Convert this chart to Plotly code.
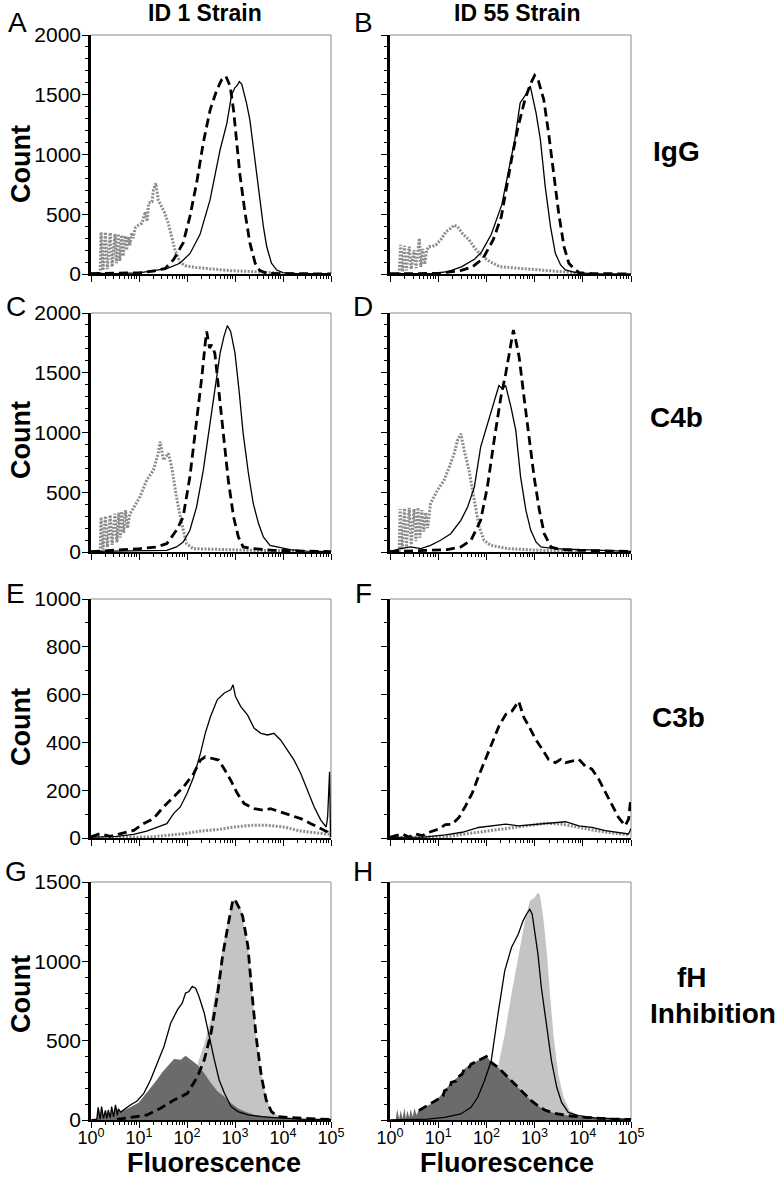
import numpy as np
import plotly.graph_objects as go

# ---------------- data (x as log10 fluorescence, y as count) ----------------
# Panel A : IgG, ID 1 strain
a_solid_lx = [0.0, 0.5, 1.0, 1.3, 1.58, 1.85, 2.06, 2.27, 2.48, 2.69, 2.83, 2.93, 3.0, 3.05, 3.09, 3.14, 3.24, 3.31, 3.38, 3.49, 3.59, 3.66, 3.76, 3.87, 4.0, 4.3, 5.0]
a_solid_y = [5, 3, 10, 25, 45, 90, 170, 330, 620, 1040, 1260, 1500, 1560, 1580, 1610, 1590, 1430, 1290, 1065, 730, 400, 230, 90, 33, 11, 3, 2]
a_dash_lx = [0.0, 0.5, 1.0, 1.3, 1.54, 1.72, 1.92, 2.06, 2.2, 2.34, 2.48, 2.62, 2.72, 2.81, 2.9, 2.97, 3.03, 3.10, 3.21, 3.31, 3.42, 3.52, 3.66, 4.0, 5.0]
a_dash_y = [3, 5, 10, 25, 45, 120, 260, 480, 760, 1100, 1370, 1540, 1625, 1655, 1570, 1370, 1120, 840, 510, 260, 90, 28, 6, 3, 1]
a_dot_lx = [0.19, 0.21, 0.25, 0.30, 0.34, 0.40, 0.44, 0.50, 0.53, 0.57, 0.60, 0.64, 0.67, 0.71, 0.74, 0.78, 0.81, 0.85, 0.88, 0.92, 0.99, 1.06, 1.13, 1.17, 1.20, 1.27, 1.30, 1.35, 1.40, 1.47, 1.54, 1.61, 1.68, 1.75, 1.85, 1.96, 2.17, 2.5, 2.9, 3.4, 3.8, 4.0]
a_dot_y = [0, 350, 30, 350, 40, 345, 60, 335, 90, 335, 110, 325, 150, 320, 200, 310, 240, 345, 300, 385, 410, 425, 520, 440, 594, 603, 703, 760, 620, 560, 508, 425, 312, 200, 100, 70, 55, 40, 28, 20, 11, 5]

# Panel B : IgG, ID 55 strain
b_solid_lx = [0.0, 0.85, 1.2, 1.48, 1.76, 1.90, 2.1, 2.32, 2.45, 2.59, 2.70, 2.77, 2.84, 2.91, 2.96, 3.03, 3.12, 3.22, 3.33, 3.43, 3.54, 3.64, 3.85, 4.2, 5.0]
b_solid_y = [3, 3, 20, 60, 125, 185, 330, 580, 845, 1124, 1432, 1474, 1516, 1572, 1488, 1348, 1124, 733, 397, 173, 76, 34, 11, 3, 1]
b_dash_lx = [0.0, 1.0, 1.48, 1.71, 1.93, 2.14, 2.31, 2.52, 2.66, 2.80, 2.91, 3.0, 3.08, 3.19, 3.29, 3.40, 3.50, 3.61, 3.71, 3.81, 3.92, 4.2, 5.0]
b_dash_y = [2, 5, 30, 60, 130, 285, 480, 957, 1236, 1460, 1586, 1661, 1614, 1460, 1180, 845, 509, 229, 90, 48, 11, 3, 1]
b_dot_lx = [0.19, 0.22, 0.26, 0.30, 0.34, 0.40, 0.44, 0.50, 0.54, 0.58, 0.61, 0.64, 0.68, 0.72, 0.76, 0.81, 0.88, 0.95, 1.05, 1.16, 1.26, 1.33, 1.40, 1.50, 1.64, 1.79, 1.93, 2.07, 2.28, 2.6, 3.0, 3.3, 3.64, 4.0]
b_dot_y = [0, 243, 20, 235, 30, 229, 40, 200, 50, 190, 299, 60, 210, 80, 200, 229, 230, 243, 285, 354, 382, 410, 396, 340, 285, 200, 145, 103, 61, 50, 39, 28, 17, 5]

# Panel C : C4b, ID 1 strain
c_solid_lx = [0.0, 1.02, 1.58, 1.78, 1.92, 2.06, 2.2, 2.34, 2.48, 2.58, 2.69, 2.77, 2.84, 2.91, 3.0, 3.09, 3.17, 3.28, 3.38, 3.49, 3.59, 3.73, 3.94, 4.15, 4.49, 5.0]
c_solid_y = [5, 14, 14, 42, 84, 182, 378, 685, 1077, 1385, 1664, 1804, 1894, 1846, 1664, 1329, 993, 657, 406, 238, 126, 56, 36, 20, 8, 3]
c_dash_lx = [0.0, 0.19, 0.5, 1.02, 1.37, 1.58, 1.78, 1.92, 2.06, 2.2, 2.31, 2.38, 2.41, 2.47, 2.51, 2.58, 2.65, 2.74, 2.86, 2.97, 3.07, 3.17, 3.38, 3.80, 4.5, 5.0]
c_dash_y = [3, 8, 10, 28, 42, 70, 182, 294, 629, 1077, 1468, 1748, 1846, 1706, 1734, 1664, 1385, 1021, 601, 294, 126, 42, 28, 14, 5, 3]
c_dot_lx = [0.19, 0.21, 0.25, 0.30, 0.34, 0.40, 0.44, 0.50, 0.54, 0.58, 0.61, 0.64, 0.68, 0.72, 0.76, 0.81, 0.88, 1.02, 1.16, 1.30, 1.40, 1.44, 1.51, 1.61, 1.68, 1.78, 1.89, 1.99, 2.13, 2.62, 3.31, 4.3]
c_dot_y = [0, 290, 20, 300, 40, 310, 60, 320, 80, 330, 120, 340, 160, 350, 200, 320, 364, 462, 601, 685, 825, 923, 769, 825, 713, 462, 238, 70, 28, 20, 14, 8]

# Panel D : C4b, ID 55 strain
d_solid_lx = [0.0, 0.22, 0.43, 0.64, 0.84, 1.05, 1.26, 1.47, 1.61, 1.75, 1.88, 2.02, 2.16, 2.26, 2.33, 2.40, 2.51, 2.61, 2.71, 2.82, 2.92, 3.03, 3.13, 3.41, 3.96, 4.65, 5.0]
d_solid_y = [5, 28, 42, 28, 56, 98, 153, 265, 376, 543, 878, 1073, 1268, 1393, 1365, 1393, 1212, 1017, 627, 348, 181, 84, 42, 28, 20, 8, 5]
d_dash_lx = [0.0, 0.84, 1.19, 1.47, 1.68, 1.88, 2.02, 2.16, 2.30, 2.40, 2.51, 2.56, 2.61, 2.68, 2.78, 2.89, 2.99, 3.10, 3.20, 3.34, 3.55, 3.96, 4.7, 5.0]
d_dash_y = [3, 14, 20, 42, 98, 265, 543, 933, 1296, 1491, 1770, 1858, 1770, 1630, 1296, 961, 627, 348, 153, 42, 20, 14, 8, 5]
d_dot_lx = [0.19, 0.21, 0.25, 0.30, 0.34, 0.40, 0.44, 0.50, 0.54, 0.58, 0.62, 0.66, 0.70, 0.74, 0.78, 0.84, 0.98, 1.12, 1.23, 1.33, 1.40, 1.47, 1.54, 1.64, 1.75, 1.85, 1.95, 2.09, 2.44, 3.13, 4.0]
d_dot_y = [0, 360, 20, 365, 40, 370, 60, 360, 90, 370, 120, 350, 170, 330, 200, 404, 515, 599, 710, 822, 933, 989, 850, 683, 432, 209, 98, 56, 28, 14, 8]

# Panel E : C3b, ID 1 strain
e_solid_lx = [0.0, 0.05, 0.54, 0.89, 1.16, 1.37, 1.58, 1.72, 1.86, 2.0, 2.14, 2.28, 2.38, 2.49, 2.63, 2.77, 2.91, 2.96, 3.01, 3.12, 3.26, 3.40, 3.54, 3.68, 3.81, 3.95, 4.09, 4.23, 4.37, 4.51, 4.65, 4.79, 4.90, 4.93, 4.97, 4.99]
e_solid_y = [3, 4, 7, 15, 29, 46, 60, 102, 130, 186, 256, 354, 438, 508, 578, 606, 620, 641, 592, 550, 515, 459, 438, 431, 438, 410, 368, 326, 270, 200, 130, 74, 46, 88, 277, 4]
e_dash_lx = [0.0, 0.19, 0.40, 0.54, 0.89, 1.09, 1.30, 1.51, 1.72, 1.93, 2.14, 2.28, 2.38, 2.52, 2.66, 2.77, 2.91, 3.05, 3.19, 3.40, 3.61, 3.74, 3.95, 4.16, 4.37, 4.58, 4.79, 4.93, 4.99]
e_dash_y = [5, 18, 7, 15, 32, 60, 81, 130, 172, 214, 270, 326, 340, 333, 326, 291, 242, 186, 144, 123, 116, 123, 109, 95, 81, 60, 39, 25, 5]
e_dot_lx = [0.0, 0.89, 1.23, 1.58, 1.93, 2.28, 2.63, 2.98, 3.33, 3.68, 4.02, 4.37, 4.72, 4.99]
e_dot_y = [2, 5, 4, 11, 18, 29, 35, 46, 53, 53, 46, 29, 21, 15]

# Panel F : C3b, ID 55 strain
f_solid_lx = [0.0, 0.7, 1.15, 1.50, 1.84, 2.12, 2.40, 2.67, 2.95, 3.23, 3.50, 3.64, 3.92, 4.19, 4.47, 4.74, 4.95, 5.0]
f_solid_y = [3, 4, 13, 24, 44, 51, 58, 51, 56, 58, 65, 68, 51, 44, 31, 24, 17, 40]
f_dash_lx = [0.0, 0.26, 0.39, 0.53, 0.67, 0.81, 1.02, 1.15, 1.29, 1.43, 1.57, 1.71, 1.84, 1.98, 2.12, 2.26, 2.40, 2.53, 2.67, 2.78, 2.88, 3.02, 3.16, 3.29, 3.43, 3.54, 3.64, 3.78, 3.92, 4.05, 4.19, 4.33, 4.47, 4.61, 4.74, 4.88, 4.95, 4.99]
f_dash_y = [3, 17, 4, 17, 10, 24, 38, 56, 58, 86, 135, 190, 260, 329, 399, 468, 517, 531, 572, 503, 468, 413, 371, 329, 315, 329, 315, 322, 329, 301, 288, 246, 190, 135, 86, 51, 79, 156]
f_dot_lx = [0.0, 1.15, 1.50, 1.84, 2.19, 2.53, 2.88, 3.23, 3.57, 3.92, 4.26, 4.61, 4.95]
f_dot_y = [2, 5, 15, 24, 35, 44, 51, 62, 58, 44, 31, 21, 13]

# Panel G : fH inhibition, ID 1 strain
g_light_lx = [0.0, 0.89, 1.45, 1.87, 2.08, 2.25, 2.36, 2.50, 2.64, 2.74, 2.85, 2.95, 3.02, 3.13, 3.27, 3.34, 3.44, 3.55, 3.65, 3.76, 3.90, 4.17, 4.73, 5.0]
g_light_y = [0, 5, 30, 100, 180, 380, 480, 640, 880, 1080, 1250, 1380, 1390, 1320, 1100, 850, 530, 290, 140, 60, 25, 12, 5, 3]
g_dark_lx = [0.0, 0.12, 0.15, 0.19, 0.22, 0.26, 0.30, 0.33, 0.36, 0.40, 0.43, 0.47, 0.51, 0.55, 0.57, 0.62, 0.71, 0.85, 0.99, 1.13, 1.27, 1.37, 1.48, 1.59, 1.73, 1.87, 1.97, 2.08, 2.22, 2.36, 2.50, 2.64, 2.78, 2.92, 3.06, 3.20, 3.41, 3.69, 4.03, 4.38, 5.0]
g_dark_y = [0, 5, 80, 5, 84, 10, 60, 10, 63, 15, 84, 20, 95, 30, 70, 50, 63, 84, 109, 160, 210, 252, 300, 340, 385, 380, 405, 380, 347, 295, 231, 179, 147, 105, 74, 53, 32, 21, 11, 6, 3]
g_solid_lx = [0.0, 0.12, 0.15, 0.19, 0.22, 0.26, 0.30, 0.33, 0.36, 0.40, 0.43, 0.47, 0.51, 0.55, 0.57, 0.62, 0.71, 0.82, 0.96, 1.10, 1.24, 1.38, 1.52, 1.66, 1.80, 1.90, 1.97, 2.04, 2.11, 2.18, 2.25, 2.36, 2.46, 2.57, 2.67, 2.78, 2.92, 3.06, 3.27, 3.55, 3.90, 4.38, 5.0]
g_solid_y = [0, 5, 80, 5, 84, 10, 60, 10, 63, 15, 84, 20, 95, 30, 70, 50, 70, 95, 120, 168, 252, 358, 463, 610, 694, 736, 800, 810, 842, 831, 778, 673, 526, 379, 252, 168, 84, 53, 32, 21, 13, 6, 3]
g_dash_lx = [0.54, 0.89, 1.17, 1.45, 1.73, 2.01, 2.22, 2.36, 2.50, 2.64, 2.74, 2.85, 2.95, 2.99, 3.09, 3.16, 3.27, 3.34, 3.44, 3.55, 3.65, 3.76, 3.90, 4.10, 4.38, 4.73, 5.0]
g_dash_y = [4, 17, 32, 74, 126, 168, 274, 379, 547, 800, 1031, 1220, 1378, 1393, 1336, 1283, 1094, 842, 526, 274, 126, 53, 21, 17, 11, 6, 4]

# Panel H : fH inhibition, ID 55 strain
h_light_lx = [0.0, 1.5, 1.82, 2.10, 2.24, 2.38, 2.52, 2.66, 2.80, 2.90, 3.00, 3.06, 3.11, 3.18, 3.25, 3.32, 3.39, 3.49, 3.60, 3.73, 3.91, 4.26, 5.0]
h_light_y = [0, 20, 80, 150, 331, 541, 793, 1024, 1255, 1380, 1401, 1433, 1422, 1276, 1066, 793, 541, 290, 143, 59, 27, 13, 4]
h_dark_lx = [0.0, 0.12, 0.15, 0.19, 0.22, 0.26, 0.30, 0.33, 0.36, 0.40, 0.43, 0.47, 0.51, 0.55, 0.60, 0.71, 0.85, 0.99, 1.13, 1.27, 1.40, 1.54, 1.68, 1.82, 1.93, 2.0, 2.10, 2.24, 2.38, 2.52, 2.66, 2.80, 2.93, 3.07, 3.21, 3.42, 3.70, 4.05, 4.60, 5.0]
h_dark_y = [0, 5, 70, 5, 60, 10, 75, 10, 60, 15, 70, 20, 75, 30, 70, 80, 101, 132, 185, 237, 269, 321, 352, 373, 394, 405, 363, 331, 290, 248, 206, 164, 122, 90, 63, 42, 27, 17, 6, 3]
h_solid_lx = [0.0, 0.43, 0.78, 1.13, 1.47, 1.68, 1.82, 1.96, 2.10, 2.24, 2.38, 2.52, 2.66, 2.76, 2.83, 2.90, 2.95, 3.00, 3.07, 3.14, 3.25, 3.35, 3.46, 3.56, 3.70, 3.91, 4.26, 5.0]
h_solid_y = [0, 2, 6, 17, 38, 80, 143, 248, 373, 667, 940, 1087, 1171, 1255, 1297, 1328, 1297, 1192, 1045, 835, 583, 373, 206, 111, 48, 27, 13, 3]
h_dash_lx = [0.60, 0.71, 0.85, 0.99, 1.10, 1.13, 1.24, 1.27, 1.37, 1.40, 1.50, 1.54, 1.65, 1.68, 1.82, 1.93, 2.0, 2.10, 2.24, 2.38, 2.52, 2.66, 2.80, 2.93, 3.07, 3.21, 3.42, 3.70, 4.05, 4.60, 5.0]
h_dash_y = [60, 80, 101, 132, 150, 185, 200, 237, 245, 269, 290, 321, 335, 352, 373, 394, 400, 363, 331, 290, 248, 206, 164, 122, 90, 63, 42, 27, 17, 6, 3]

panel_letters = ["A", "B", "C", "D", "E", "F", "G", "H"]
column_titles = ["ID 1 Strain", "ID 55 Strain"]
row_labels = ["IgG", "C4b", "C3b"]
row_ymax = [2000, 2000, 1000, 1500]
row_dtick = [500, 500, 200, 500]
x_tick_vals = [1, 10, 100, 1000, 10000, 100000]
x_tick_text = ["10<sup>0</sup>", "10<sup>1</sup>", "10<sup>2</sup>", "10<sup>3</sup>", "10<sup>4</sup>", "10<sup>5</sup>"]

# ---------------- figure ----------------
W, H = 784, 1180
FONT = "Liberation Sans, Arial, Helvetica, sans-serif"
fig = go.Figure()

STY = {
    "solid": dict(color="black", width=1.3),
    "dash": dict(color="black", width=2.8, dash="9px,5px"),
    "dot": dict(color="#8c8c8c", width=3, dash="2px,1.5px"),
}
FILL = {"light": "#c4c4c4", "dark": "#6b6b6b"}


def add(panel, lx, y, kind):
    ax = "" if panel == 1 else str(panel)
    xs = np.power(10.0, np.array(lx))
    if kind in FILL:
        fig.add_trace(go.Scatter(x=xs, y=y, mode="lines", fill="tozeroy",
                                 fillcolor=FILL[kind], line=dict(width=0, color=FILL[kind]),
                                 xaxis="x" + ax, yaxis="y" + ax, showlegend=False, hoverinfo="skip"))
    else:
        fig.add_trace(go.Scatter(x=xs, y=y, mode="lines", line=STY[kind],
                                 xaxis="x" + ax, yaxis="y" + ax, showlegend=False, hoverinfo="skip"))


add(1, a_dot_lx, a_dot_y, "dot"); add(1, a_solid_lx, a_solid_y, "solid"); add(1, a_dash_lx, a_dash_y, "dash")
add(2, b_dot_lx, b_dot_y, "dot"); add(2, b_solid_lx, b_solid_y, "solid"); add(2, b_dash_lx, b_dash_y, "dash")
add(3, c_dot_lx, c_dot_y, "dot"); add(3, c_solid_lx, c_solid_y, "solid"); add(3, c_dash_lx, c_dash_y, "dash")
add(4, d_dot_lx, d_dot_y, "dot"); add(4, d_solid_lx, d_solid_y, "solid"); add(4, d_dash_lx, d_dash_y, "dash")
add(5, e_dot_lx, e_dot_y, "dot"); add(5, e_solid_lx, e_solid_y, "solid"); add(5, e_dash_lx, e_dash_y, "dash")
add(6, f_dot_lx, f_dot_y, "dot"); add(6, f_solid_lx, f_solid_y, "solid"); add(6, f_dash_lx, f_dash_y, "dash")
add(7, g_light_lx, g_light_y, "light"); add(7, g_dark_lx, g_dark_y, "dark")
add(7, g_solid_lx, g_solid_y, "solid"); add(7, g_dash_lx, g_dash_y, "dash")
add(8, h_light_lx, h_light_y, "light"); add(8, h_dark_lx, h_dark_y, "dark")
add(8, h_solid_lx, h_solid_y, "solid"); add(8, h_dash_lx, h_dash_y, "dash")

# layout geometry (pixels)
col_x = [(91, 331), (390, 631)]
row_y = [(35, 274), (313, 552), (599, 838), (882, 1120)]
minor_vals = [m * 10 ** d for d in range(5) for m in range(2, 10)]

layout = dict(width=W, height=H, margin=dict(l=0, r=0, t=0, b=0, autoexpand=False),
              paper_bgcolor="white", plot_bgcolor="white", showlegend=False)
shapes = []
for r in range(4):
    for c in range(2):
        i = r * 2 + c + 1
        sfx = "" if i == 1 else str(i)
        x0, x1 = col_x[c]
        t, b = row_y[r]
        layout["xaxis" + sfx] = dict(
            domain=[x0 / W, x1 / W], anchor="y" + sfx, type="log", range=[0, 5],
            automargin=False,
            showline=True, linecolor="black", linewidth=1.5, mirror=False,
            ticks="outside", ticklen=6, tickwidth=1.3, tickcolor="black",
            tickmode="array", tickvals=x_tick_vals, ticktext=x_tick_text,
            ticklabelstandoff=-5,
            showticklabels=(r == 3), tickfont=dict(family=FONT, size=18, color="black"),
            showgrid=False, zeroline=False,
            minor=dict(tickmode="array", tickvals=minor_vals, ticks="outside",
                       ticklen=3, tickwidth=1, tickcolor="black", showgrid=False),
        )
        layout["yaxis" + sfx] = dict(
            domain=[1 - b / H, 1 - t / H], anchor="x" + sfx, range=[0, row_ymax[r]],
            automargin=False,
            showline=True, linecolor="black", linewidth=2.5,
            ticks="outside", ticklen=6, tickwidth=1.3, tickcolor="black",
            dtick=row_dtick[r], tick0=0, ticklabelstandoff=-3,
            showticklabels=(c == 0), tickfont=dict(family=FONT, size=21, color="black"),
            showgrid=False, zeroline=False,
            minor=dict(dtick=100, ticks="outside", ticklen=3, tickwidth=1,
                       tickcolor="black", showgrid=False),
        )
        xr = "x" + sfx + " domain"
        yr = "y" + sfx + " domain"
        shapes.append(dict(type="line", xref=xr, yref=yr, x0=0, x1=1, y0=1, y1=1,
                           line=dict(color="#8a8a8a", width=1), layer="below"))
        shapes.append(dict(type="line", xref=xr, yref=yr, x0=1, x1=1, y0=0, y1=1,
                           line=dict(color="#8a8a8a", width=1), layer="below"))
layout["shapes"] = shapes

ann = []


def txt(text, px, py, size, bold=False, angle=0, xanchor="center"):
    ann.append(dict(text=("<b>%s</b>" % text) if bold else text, x=px / W, y=1 - py / H,
                    xref="paper", yref="paper", showarrow=False, xanchor=xanchor,
                    yanchor="middle", textangle=angle,
                    font=dict(family=FONT, size=size, color="black")))


# panel letters
letter_pos = [(17, 22), (363, 22), (16, 306), (363, 306), (16, 593), (363, 593), (16, 871), (363, 871)]
for L, (px, py) in zip(panel_letters, letter_pos):
    txt(L, px, py, 28)
# column titles
txt(column_titles[0], 205, 13, 23, bold=True)
txt(column_titles[1], 517, 13, 23, bold=True)
# row labels
txt(row_labels[0], 676, 152, 28, bold=True)
txt(row_labels[1], 676, 417, 28, bold=True)
txt(row_labels[2], 678, 717, 28, bold=True)
txt("fH", 675, 977, 28, bold=True, xanchor="left")
txt("Inhibition", 648, 1013, 28, bold=True, xanchor="left")
# Count titles
for py in [164, 440, 727, 994]:
    txt("Count", 21, py, 27, bold=True, angle=-90)
# Fluorescence titles
txt("Fluorescence", 214, 1163, 27, bold=True)
txt("Fluorescence", 507, 1163, 27, bold=True)
layout["annotations"] = ann

fig.update_layout(**layout)
fig.write_html("out.html", config={"displayModeBar": False},
               post_script="document.body.style.margin='0px';document.body.style.overflow='hidden';")
